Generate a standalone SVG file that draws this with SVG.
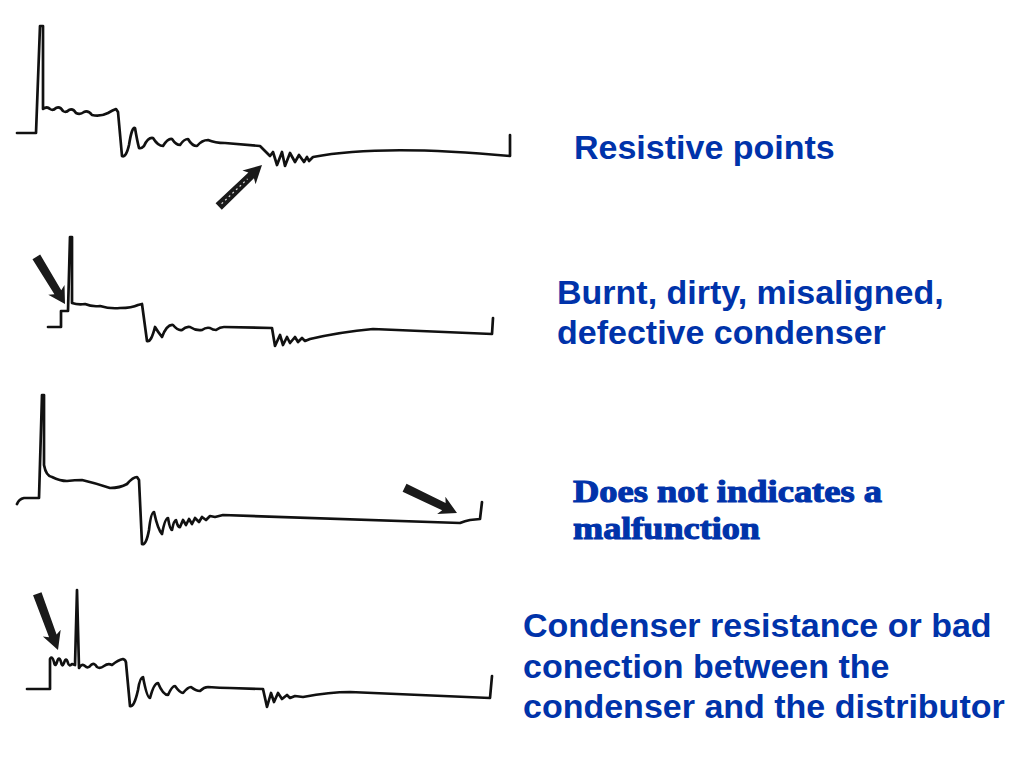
<svg xmlns="http://www.w3.org/2000/svg" width="1024" height="768" viewBox="0 0 1024 768">
<style>
.trace{fill:none;stroke:#111;stroke-width:2.7;stroke-linejoin:round;stroke-linecap:round}
.lbl{font-family:"Liberation Sans",Arial,sans-serif;font-weight:bold;font-size:34px;fill:#0033AA}
.lbl2{font-family:"Liberation Serif","Times New Roman",serif;font-weight:bold;font-size:32px;fill:#0033AA;stroke:#0033AA;stroke-width:1.1}
.arr{fill:#1a1a1a}
</style>
<defs>
<path id="arrow" d="M0,0 L-18,-9.5 L-15,-4 L-60,-4.5 L-60,4.5 L-15,4 L-18,9.5 Z"/>
</defs>
<rect width="1024" height="768" fill="#fff"/>

<g id="trace1">
<path class="trace" d="M17,133 L36,133 L40,26 L43,26 L43,109 Q47,106 50,109 Q53,111 56,108 Q60,106 63,111 Q66,113 69,110 Q73,108 76,113 Q80,115 84,112 Q88,110 92,115 Q100,117 108,113 Q113,110 116,109 L118,112 L122,156 Q126,158 129,145 Q132,126 135,128 Q137,140 139,148 Q141,149 144,146 Q148,137 153,138 Q158,146 163,146 Q168,138 172,139 Q176,145 180,145 Q184,139 188,139 Q192,146 197,146 Q202,140 208,140 Q215,143 225,143 L260,146 L266,152 L270,156 L273,152 L277,165 L282,152 L285,166 L290,153 L295,162 L299,155 L304,162 L307,157 L309,161 L313,157 Q380,144 510,156 L510,135"/>
</g>

<g id="trace2">
<path class="trace" d="M48,327 L61,327 L61,311 L68,311 L70,237 L72,237 L72,303 Q78,305 85,304 Q92,307 100,306 Q110,309 120,308 Q132,308 138,305 L142,304 L147,341 Q151,343 155,327 Q158,332 162,337 Q167,324 173,325 Q178,331 182,330 Q186,326 190,327 Q196,331 202,330 Q206,327 210,328 Q213,330 216,330 Q220,327 224,327 L272,328 L275,346 L280,335 L283,345 L287,337 L290,343 L295,337 L298,342 L302,338 L305,341 L310,339 Q340,332 373,329 L492,334 L493,318"/>
</g>

<g id="trace3">
<path class="trace" d="M17,504 Q19,499 24,498 L39,498 L42,395 L44,395 L44,465 Q46,476 52,477 Q60,481 67,481 Q75,480 82,480 Q95,483 110,488 Q120,488 127,484 Q133,477 137,477 L139,480 L142,544 Q146,546 149,530 Q151,512 154,512 Q158,530 162,534 Q165,518 168,518 Q170,530 172,530 Q174,520 176,520 Q178,528 180,527 L183,520 L186,525 L189,519 L192,524 L195,518 L199,522 L202,517 L206,520 L210,516 L215,517 L223,515 L460,523 Q465,521 470,520 L480,519 L482,502"/>
</g>

<g id="trace4">
<path class="trace" d="M27,689 L50,689 L50,659 Q52,655 54,662 Q55,668 57,662 Q59,655 61,662 Q62,668 64,663 Q66,656 68,663 Q69,667 72,664 L75,665 L77,590 L79,668 Q82,663 85,666 Q88,669 91,665 Q94,662 97,667 Q100,669 104,666 Q108,663 112,665 Q118,660 123,659 Q126,660 126,663 L130,706 Q134,708 138,690 Q140,677 143,677 Q147,698 150,698 Q154,683 158,683 Q163,695 168,695 Q172,686 175,686 Q180,693 183,693 Q188,687 191,687 Q196,691 200,691 Q204,687 208,687 Q220,688 230,688 L263,689 L267,707 L271,693 L274,702 L278,693 L282,699 L287,695 L290,698 L295,696 L303,697 Q330,692 350,692 L490,698 L492,676"/>
</g>

<g id="connectors">
<g transform="translate(262,165) rotate(-43.8)">
<use href="#arrow" class="arr" fill="#2a2a2a"/>
<line x1="-56" y1="0" x2="-20" y2="0" stroke="#ddd" stroke-width="1.2" stroke-dasharray="2 3"/>
</g>
<use href="#arrow" class="arr" transform="translate(65,304) rotate(58.7) scale(0.92,1)"/>
<use href="#arrow" class="arr" transform="translate(457,513) rotate(25.7) scale(0.97,1)"/>
<use href="#arrow" class="arr" transform="translate(58,650) rotate(69.8)"/>
</g>

<g id="label1">
<text class="lbl" x="574" y="159">Resistive points</text>
</g>
<g id="label2">
<text class="lbl" x="557" y="304">Burnt, dirty, misaligned,</text>
<text class="lbl" x="557" y="344">defective condenser</text>
</g>
<g id="label3">
<text class="lbl2" x="573" y="502" textLength="309" lengthAdjust="spacingAndGlyphs">Does not indicates a</text>
<text class="lbl2" x="573" y="539" textLength="187" lengthAdjust="spacingAndGlyphs">malfunction</text>
</g>
<g id="label4">
<text class="lbl" x="523" y="637">Condenser resistance or bad</text>
<text class="lbl" x="523" y="678">conection between the</text>
<text class="lbl" x="523" y="718">condenser and the distributor</text>
</g>
</svg>
